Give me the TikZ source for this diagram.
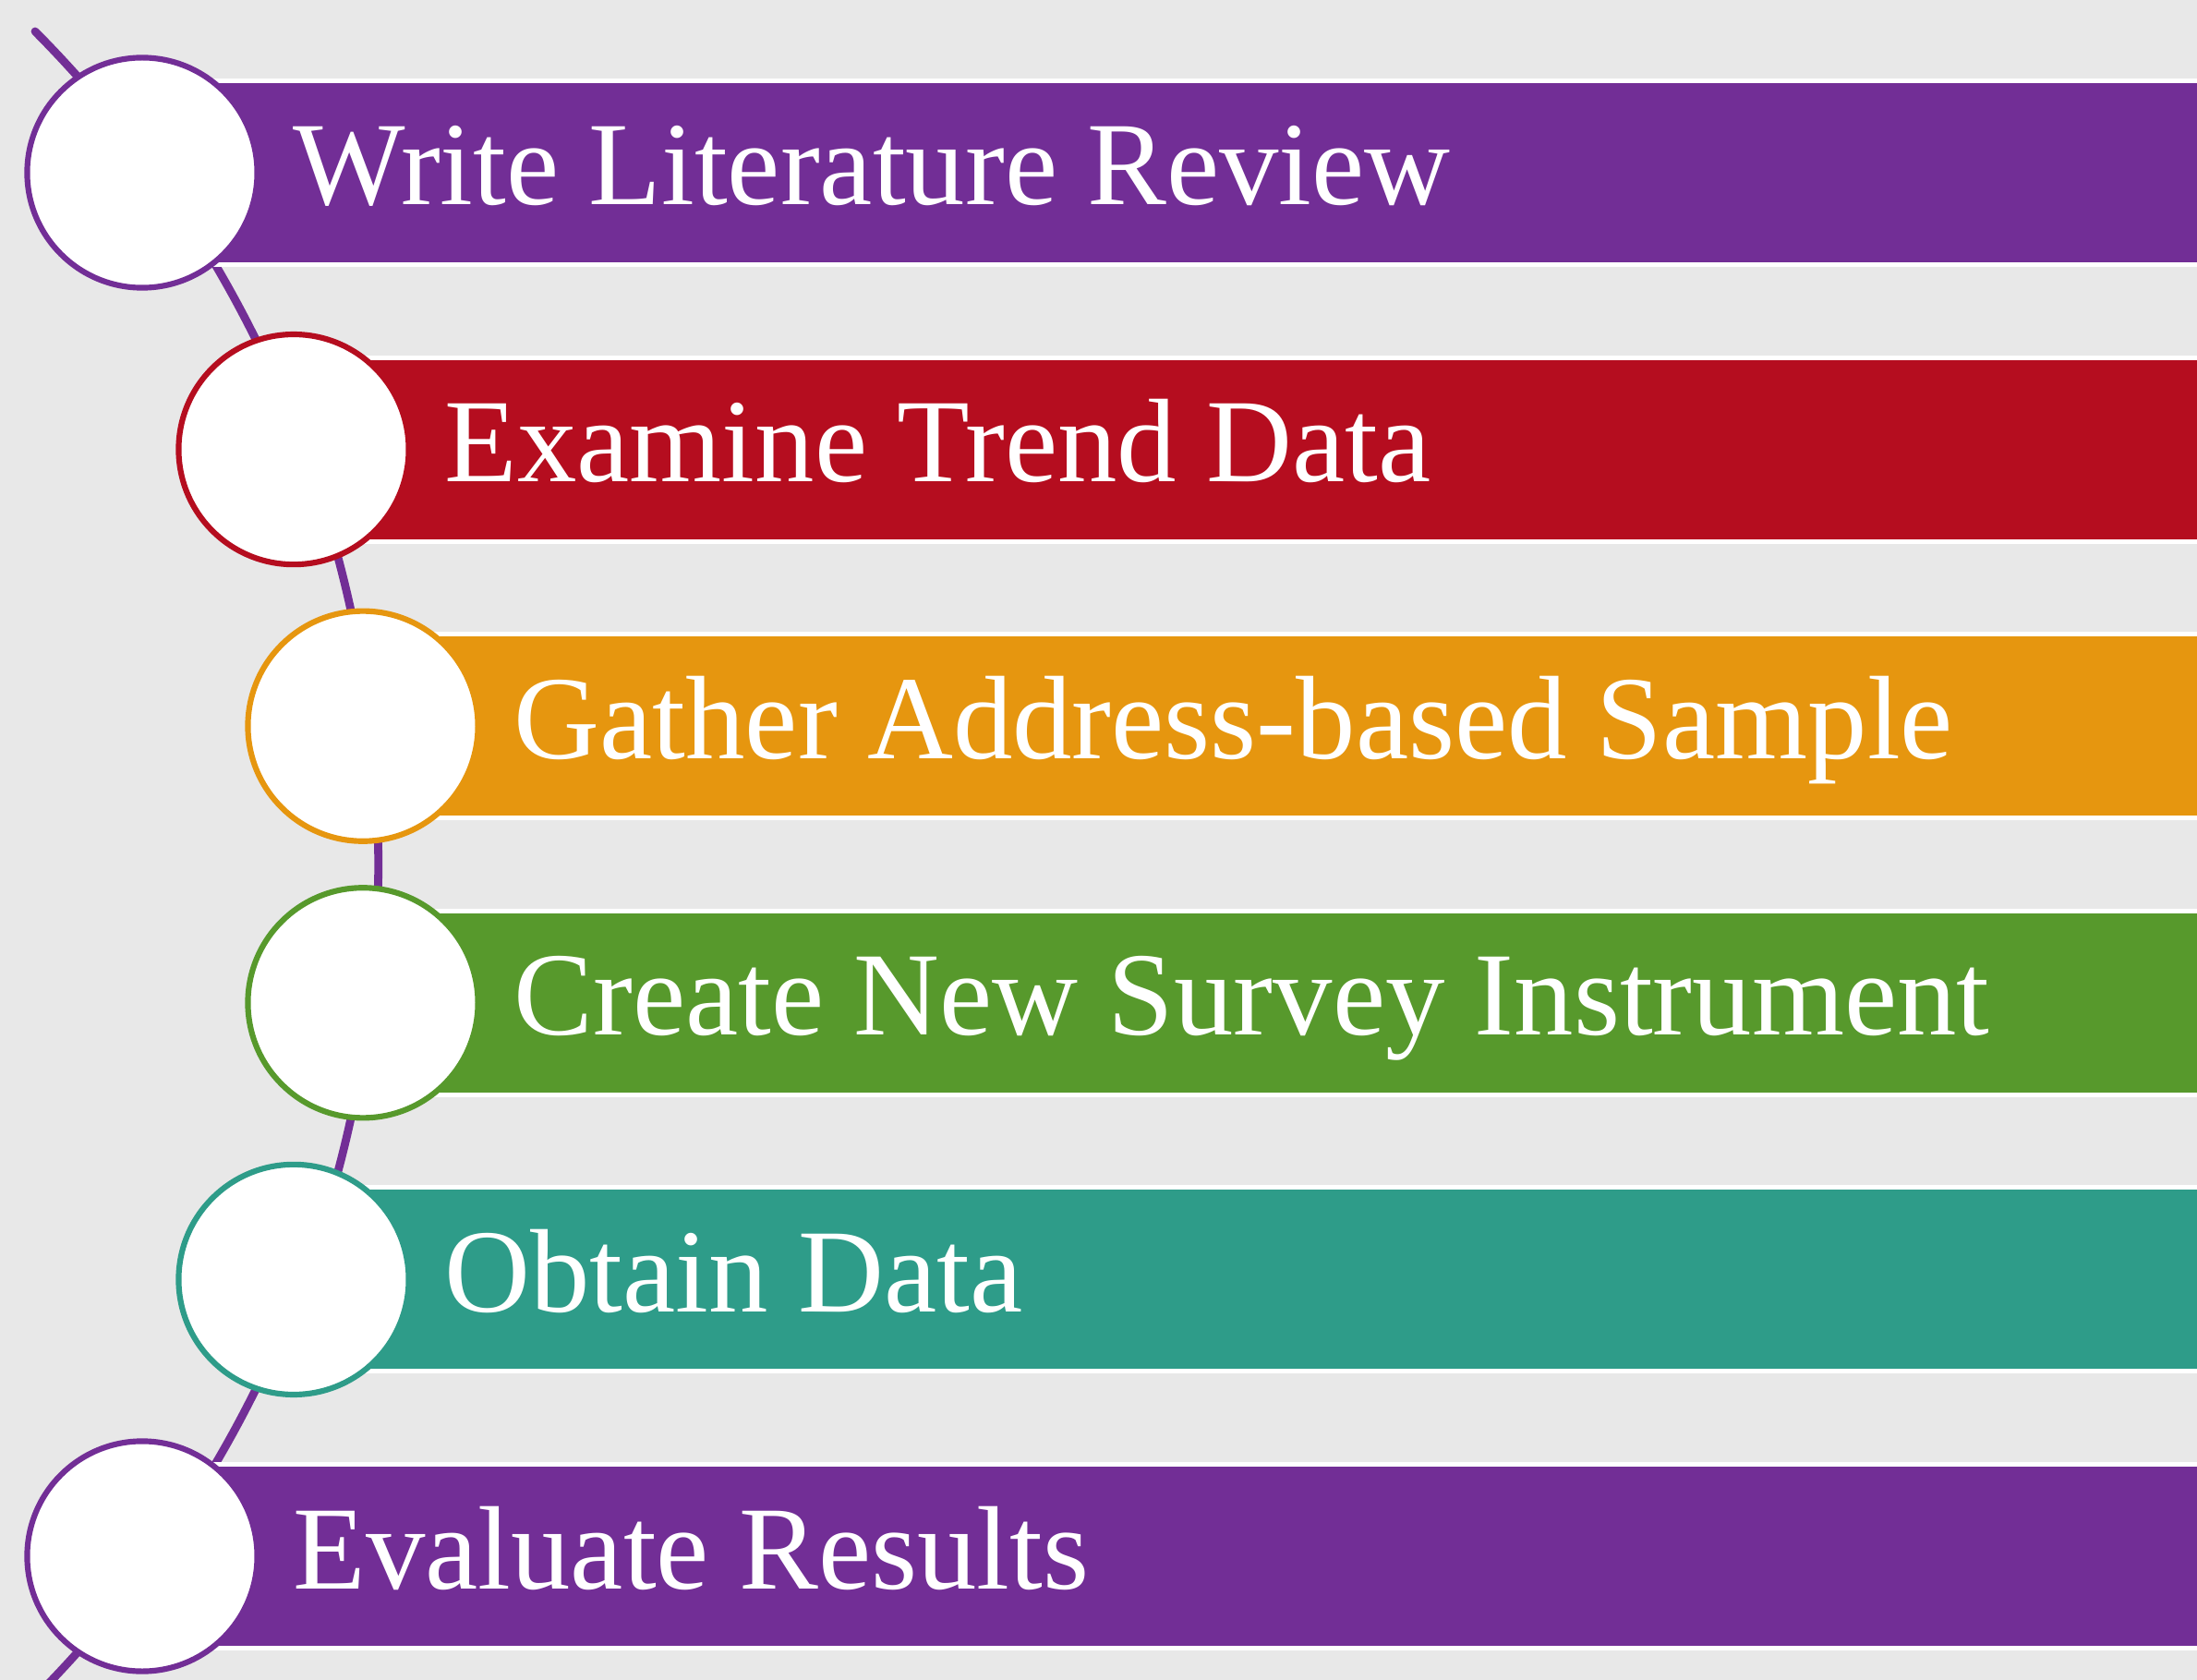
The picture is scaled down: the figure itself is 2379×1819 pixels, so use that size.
\documentclass[tikz,border=0pt]{standalone}
\usepackage{fontspec}
\setmainfont{Liberation Serif}
\definecolor{bg}{HTML}{E8E8E8}
\definecolor{cpurple}{HTML}{722E96}
\definecolor{cred}{HTML}{B50D1F}
\definecolor{corange}{HTML}{E6960F}
\definecolor{cgreen}{HTML}{57992C}
\definecolor{cteal}{HTML}{2E9C89}
\begin{document}
\begin{tikzpicture}[x=0.01cm,y=-0.01cm,
  bar/.style={draw=white, line width=1.42pt},
  dot/.style={circle, fill=white, line width=1.75pt, minimum size=2.49cm, inner sep=0pt},
  lbl/.style={anchor=base west, inner sep=0pt, text=white, font=\fontsize{36.6}{40}\selectfont},
  link/.style={draw=cpurple, line width=2.5pt, line cap=round}]
\useasboundingbox[fill=bg] (0,0) rectangle (2379,1819);
\begin{scope}
\clip (0,0) rectangle (2379,1819);
\coordinate (s) at (38,34);
\draw[link] (s) arc[start angle=-44.8, end angle=44.8, radius=1280];
\foreach \i/\x/\col/\txt in {0/154/cpurple/Write Literature Review,
  1/318/cred/Examine Trend Data,
  2/393/corange/Gather Address-based Sample,
  3/393/cgreen/Create New Survey Instrument,
  4/318/cteal/Obtain Data,
  5/154/cpurple/Evaluate Results}{
  \pgfmathsetmacro{\cy}{187+299.6*\i}
  \path[bar, fill=\col] (\x,\cy-99.5) rectangle (2420,\cy+99.5);
  \node[dot, draw=\col] (c\i) at (\x,\cy) {};
  \node[lbl] (t\i) at (\x+163,\cy+35) {\txt};
}
\end{scope}
\end{tikzpicture}
\end{document}
